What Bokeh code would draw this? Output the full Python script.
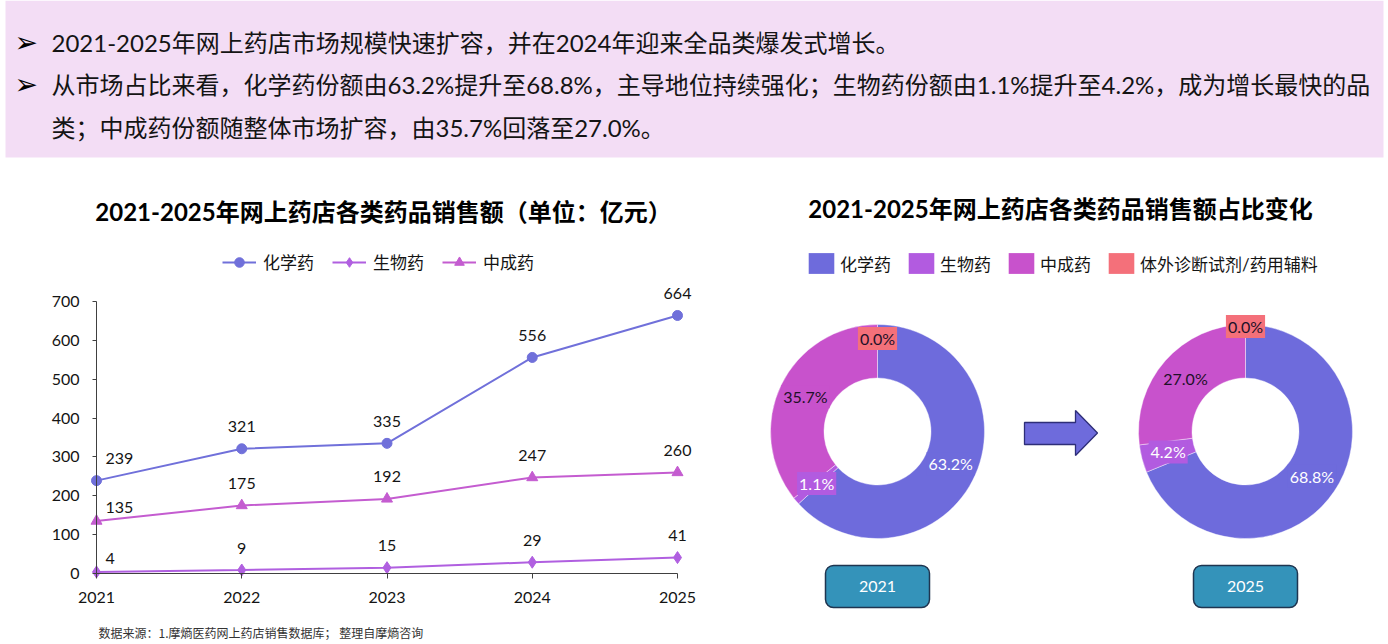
import math
from bokeh.plotting import figure
from bokeh.layouts import column, row
from bokeh.models import Range1d, FixedTicker, Legend, LegendItem, ColumnDataSource, Label
from bokeh.core.properties import value
from bokeh.embed import file_html
from bokeh.resources import INLINE

# ---------------- data ----------------
years = [2021, 2022, 2023, 2024, 2025]
chem_sales = [239, 321, 335, 556, 664]
bio_sales = [4, 9, 15, 29, 41]
tcm_sales = [135, 175, 192, 247, 260]
y_ticks = [0, 100, 200, 300, 400, 500, 600, 700]
series_names = ["化学药", "生物药", "中成药"]

share_categories = ["化学药", "生物药", "中成药", "体外诊断试剂/药用辅料"]
share_2021 = [63.2, 1.1, 35.7, 0.0]
share_2025 = [68.8, 4.2, 27.0, 0.0]
share_years = ["2021", "2025"]

title_left = "2021-2025年网上药店各类药品销售额（单位：亿元）"
title_right = "2021-2025年网上药店各类药品销售额占比变化"
header_lines = [
    "2021-2025年网上药店市场规模快速扩容，并在2024年迎来全品类爆发式增长。",
    "从市场占比来看，化学药份额由63.2%提升至68.8%，主导地位持续强化；生物药份额由1.1%提升至4.2%，成为增长最快的品",
    "类；中成药份额随整体市场扩容，由35.7%回落至27.0%。",
]
source_note = "数据来源：1.摩熵医药网上药店销售数据库； 整理自摩熵咨询"

# ---------------- styles ----------------
FONT = "Lato, 'Noto Sans CJK SC'"
CJK = "'Noto Sans CJK SC'"
C_CHEM = "#7070DA"
C_BIO = "#B05FE0"
C_TCM = "#C45CD0"
PIE_COLORS = ["#6E6BDC", "#B25BE0", "#C852CC", "#F4707A"]
PIE_TEXT = ["white", "white", "#1E1028", "#1E1028"]
TXT = "#141414"
AXC = "#404040"


def bare(p):
    p.grid.visible = False
    return p


# ---------------- header ----------------
hdr = bare(figure(width=1388, height=160, x_range=Range1d(0, 1388), y_range=Range1d(0, 160),
                  output_backend="svg", toolbar_location=None, x_axis_location=None,
                  y_axis_location=None, min_border=0, outline_line_color=None, title=None))
HY = lambda py: 160 - py
hdr.quad(left=[5], right=[1383], bottom=[HY(157)], top=[HY(0)], fill_color="#F3DDF5", line_color=None)
hdr.text(x=[14, 14], y=[HY(42), HY(84)], text=["➢", "➢"], text_font=value("DejaVu Sans"),
         text_font_size="28px", text_baseline="middle", text_color="black")
hdr.text(x=[51, 51, 51], y=[HY(42), HY(84), HY(127)], text=header_lines, text_font=value(FONT),
         text_font_size="24px", text_baseline="middle", text_color=TXT)

# ---------------- left line chart ----------------
PX_YR = 145.25        # pixels per year
PX_VAL = 272 / 700    # pixels per unit
x0 = years[0] - 96 / PX_YR
y0 = -71 / PX_VAL
left = bare(figure(width=700, height=484,
                   x_range=Range1d(x0, x0 + 700 / PX_YR), y_range=Range1d(y0, y0 + 484 / PX_VAL),
                   output_backend="svg", toolbar_location=None, min_border=0,
                   outline_line_color=None, title=None))

xa = left.xaxis[0]
xa.fixed_location = 0
xa.ticker = FixedTicker(ticks=years)
xa.bounds = (years[0], years[-1])
xa.major_tick_out = 5
xa.major_tick_in = 0
xa.minor_tick_out = 0
xa.minor_tick_in = 0
xa.major_label_standoff = 13
xa.major_label_text_font = FONT
xa.major_label_text_font_size = "16px"
xa.major_label_text_color = TXT
xa.axis_line_color = AXC
xa.major_tick_line_color = AXC

ya = left.yaxis[0]
ya.fixed_location = years[0]
ya.ticker = FixedTicker(ticks=y_ticks)
ya.bounds = (y_ticks[0], y_ticks[-1])
ya.major_tick_out = 4
ya.major_tick_in = 0
ya.minor_tick_out = 0
ya.minor_tick_in = 0
ya.major_label_standoff = 13
ya.major_label_text_font = FONT
ya.major_label_text_font_size = "16px"
ya.major_label_text_color = TXT
ya.axis_line_color = AXC
ya.major_tick_line_color = AXC

# (values, colour, marker, marker size, first-year label lift in px)
series = [(chem_sales, C_CHEM, "circle", 10, -22), (bio_sales, C_BIO, "diamond", 12, -13),
          (tcm_sales, C_TCM, "triangle", 11, -14)]
items = []
for (vals, col, mk, sz, lift0), name in zip(series, series_names):
    l = left.line(years, vals, line_color=col, line_width=2)
    s = left.scatter(years, vals, marker=mk, size=sz, fill_color=col, line_color=col)
    items.append(LegendItem(label=name, renderers=[l, s]))
    left.text(x=years[:1], y=vals[:1], text=[str(v) for v in vals[:1]], x_offset=9, y_offset=lift0,
              text_align="left", text_baseline="middle", text_font=value(FONT),
              text_font_size="16px", text_color=TXT)
    left.text(x=years[1:], y=vals[1:], text=[str(v) for v in vals[1:]], y_offset=-22,
              text_align="center", text_baseline="middle", text_font=value(FONT),
              text_font_size="16px", text_color=TXT)

leg = Legend(items=items, orientation="horizontal", location=(222, 370), glyph_width=34,
             glyph_height=24, label_standoff=7, spacing=18, padding=0, margin=0,
             border_line_color=None, background_fill_alpha=0, label_text_font=FONT,
             label_text_font_size="17px", label_text_color=TXT)
left.add_layout(leg)

left.add_layout(Label(x=383, y=433, x_units="screen", y_units="screen", text=title_left,
                      text_align="center", text_baseline="middle", text_font=FONT,
                      text_font_style="bold", text_font_size="24px", text_color="black"))
left.add_layout(Label(x=98, y=12, x_units="screen", y_units="screen", text=source_note,
                      text_align="left", text_baseline="middle", text_font=CJK,
                      text_font_size="12px", text_color="#333333"))

# ---------------- right donut charts ----------------
right = bare(figure(width=688, height=484, x_range=Range1d(700, 1388), y_range=Range1d(0, 484),
                    output_backend="svg", toolbar_location=None, x_axis_location=None,
                    y_axis_location=None, min_border=0, outline_line_color=None, title=None))
RY = lambda py: 644 - py

R_IN, R_OUT, R_LAB = 53.5, 107, 80
R_ZERO = [93, 105]    # radius of the 0.0% label on each donut
centers = [(877, RY(431)), (1245, RY(431))]
for (cx, cy), shares, rz in zip(centers, [share_2021, share_2025], R_ZERO):
    tenths = [int(round(s * 10)) for s in shares]
    total = sum(tenths)
    cum = [0]
    for t in tenths:
        cum.append(cum[-1] + t)
    start = [math.pi / 2 - 2 * math.pi * c / total for c in cum[:-1]]
    end = [math.pi / 2 - 2 * math.pi * c / total for c in cum[1:]]
    mid = [(a + b) / 2 for a, b in zip(start, end)]
    rl = [R_LAB if s > 0 else rz for s in shares]
    data = dict(
        start=start, end=end, color=PIE_COLORS, cat=share_categories, share=shares,
        lx=[cx + r * math.cos(m) for r, m in zip(rl, mid)],
        ly=[cy + r * math.sin(m) for r, m in zip(rl, mid)],
        lab=[f"{s:.1f}%" for s in shares], tc=PIE_TEXT,
    )
    nz = [i for i, s in enumerate(shares) if s > 0]
    wsrc = ColumnDataSource({k: [v[i] for i in nz] for k, v in data.items()})
    right.annular_wedge(x=cx, y=cy, inner_radius=R_IN, outer_radius=R_OUT, start_angle="start",
                        end_angle="end", direction="clock", fill_color="color",
                        line_color="white", line_width=0.6, line_alpha=0.7, source=wsrc)
    right.text(x="lx", y="ly", text="lab", source=ColumnDataSource(data), text_align="center",
               text_baseline="middle", text_font=value(FONT), text_font_size="16px",
               text_color="tc", background_fill_color="color", padding=2)

# legend proxy (zero-size swatches carrying the category colours)
proxy = right.rect(x=[centers[0][0]] * len(share_categories), y=[centers[0][1]] * len(share_categories),
                   width=0, height=0, fill_color=PIE_COLORS, line_color=None)

# arrow
ax_pts = [1024, 1075, 1075, 1097, 1075, 1075, 1024]
ay_pts = [RY(v) for v in [422, 422, 410, 432.5, 455, 444, 444]]
right.patch(ax_pts, ay_pts, fill_color="#6E6BDC", line_color="#2E2E78", line_width=1.3)

# year boxes
box_x = [c[0] for c in centers]
right.quad(left=[x - 52 for x in box_x], right=[x + 52 for x in box_x], top=[RY(565)] * 2,
           bottom=[RY(607)] * 2, border_radius=8, fill_color="#3493BA", line_color="#1F3550",
           line_width=1.5)
right.text(x=box_x, y=[RY(586)] * 2, text=share_years, text_align="center", text_baseline="middle",
           text_font=value(FONT), text_font_size="16px", text_color="white")

right.text(x=[1060], y=[RY(208)], text=[title_right], text_align="center", text_baseline="middle",
           text_font=value(FONT), text_font_style="bold", text_font_size="24px", text_color="black")

leg2 = Legend(items=[LegendItem(label=c, renderers=[proxy], index=i)
                     for i, c in enumerate(share_categories)],
              orientation="horizontal", location=(105, 368), glyph_width=32, glyph_height=26,
              label_standoff=3, spacing=14, padding=0, margin=0, border_line_color=None,
              background_fill_alpha=0, label_text_font=FONT, label_text_font_size="17px",
              label_text_color=TXT)
right.add_layout(leg2)

layout = column(hdr, row(left, right, spacing=0), spacing=0)
open("out.html", "w").write(file_html(layout, INLINE))
